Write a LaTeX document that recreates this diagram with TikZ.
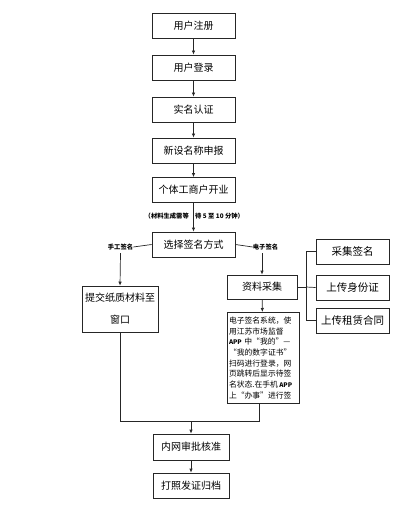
\documentclass[tikz,border=0pt]{standalone}
\usepackage{fontspec}
\setmainfont{Noto Sans CJK SC}
\usetikzlibrary{arrows.meta}
\begin{document}
\begin{tikzpicture}[x=1pt,y=-1pt,
  box/.style={draw=black!85, line width=0.7pt, minimum width=83pt, minimum height=25pt, inner sep=0pt, font=\fontsize{10}{12}\selectfont},
  rbox/.style={box, minimum width=73pt, font=\fontsize{10.5}{12}\selectfont},
  conn/.style={draw=black!85, line width=0.7pt},
  arr/.style={conn, -{Latex[length=4pt,width=3.5pt]}},
  note/.style={font=\fontsize{6.3}{7}\selectfont\bfseries, inner sep=0pt},
]
\useasboundingbox (0,0) rectangle (400,510);
\node[box] (reg) at (193.5,25.5) {用户注册};
\node[box] (login) at (193.5,67.5) {用户登录};
\node[box] (auth) at (193.5,109.5) {实名认证};
\node[box] (name) at (193.5,150.5) {新设名称申报};
\node[box] (open) at (193.5,190) {个体工商户开业};
\node[box] (choose) at (193.5,244.5) {选择签名方式};
\node[note, anchor=east] (wait1) at (189,216) {（材料生成需等};
\node[note, anchor=west] (wait2) at (195,216) {待 5 至 10 分钟）};
\node[note] (hand) at (120.5,247) {手工签名};
\node[note] (elec) at (265.5,247) {电子签名};
\node[box, minimum width=76pt, minimum height=46pt, align=center, font=\fontsize{10}{22}\selectfont] (paper) at (120,309) {提交纸质材料至\\窗口};
\node[box, minimum width=70pt, minimum height=24pt] (info) at (262,287) {资料采集};
\node[rbox] (sig) at (352.5,251.5) {采集签名};
\node[rbox] (id) at (352.5,287.5) {上传身份证};
\node[rbox] (lease) at (352.5,320.5) {上传租赁合同};
\node[draw=black!85, line width=0.7pt, minimum width=72pt, minimum height=91pt, inner xsep=2pt, inner ysep=0pt, text width=68pt, align=left, anchor=north, font=\fontsize{7.8}{10.7}\selectfont] (txt) at (263,312) {电子签名系统，使\\用江苏市场监督\\{\fontsize{6.3}{7}\selectfont\bfseries APP} 中“我的”—\\“我的数字证书”\\扫码进行登录，网\\页跳转后显示待签\\名状态.在手机\,{\fontsize{6.3}{7}\selectfont\bfseries APP}\\上“办事”进行签};
\node[box, minimum width=76pt, minimum height=26pt] (audit) at (191,447) {内网审批核准};
\node[box, minimum width=76pt, minimum height=25pt] (arch) at (191,485.5) {打照发证归档};
\coordinate (br) at (306,287);
\coordinate (m) at (191,421);
\draw[arr] (reg) -- (login);
\draw[arr] (login) -- (auth);
\draw[arr] (auth) -- (name);
\draw[arr] (name) -- (open);
\draw[arr] (open) -- (choose);
\draw[conn] (choose.west) -- (hand.east);
\draw[conn] (choose.east) -- (elec.west);
\draw[arr] (hand.south) ++(0,3) -- (paper.north);
\draw[arr] (info.north |- elec.south) ++(0,3) -- (info.north);
\draw[conn] (info.east) -- (br);
\draw[conn] (sig.west) -- (sig.west -| br) -- (lease.west -| br) -- (lease.west);
\draw[conn] (br) -- (id.west);
\draw[arr] (info) -- (txt);
\draw[conn] (paper.south) |- (m);
\draw[conn] (m) -| ([xshift=-4pt]txt.south);
\draw[arr] (m) -- (audit.north);
\draw[arr] (audit) -- (arch);
\end{tikzpicture}
\end{document}
